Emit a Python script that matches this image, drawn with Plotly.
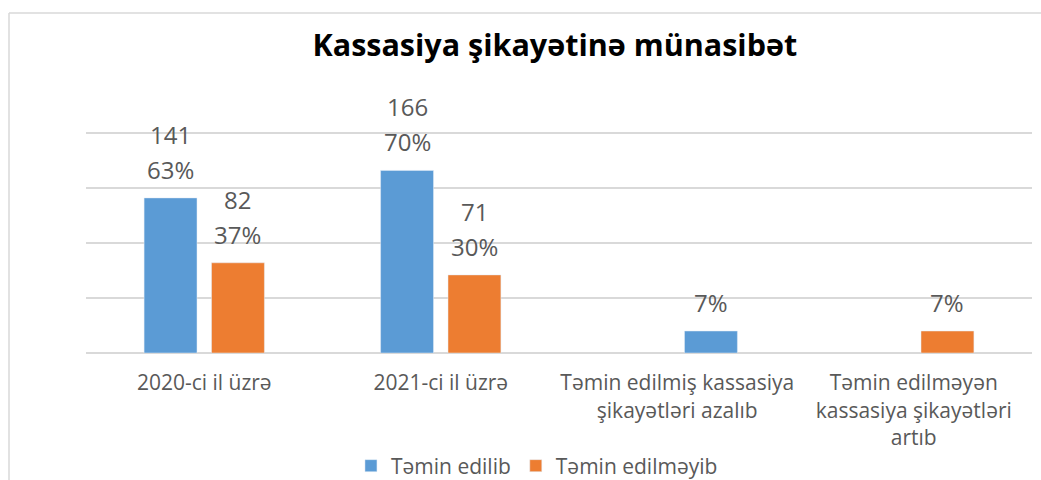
import plotly.graph_objects as go

categories = [
    "2020-ci il üzrə",
    "2021-ci il üzrə",
    "Təmin edilmiş kassasiya<br>şikayətləri azalıb",
    "Təmin edilməyən<br>kassasiya şikayətləri<br>artıb",
]
series1_name = "Təmin edilib"
series2_name = "Təmin edilməyib"
series1_values = [141, 166, None, None]
series1_counts = ["141", "166", "", ""]
series1_pct = ["63%", "70%", "", ""]
series2_values = [82, 71, 20, 20]
series2_counts = ["82", "71", "", ""]
series2_pct = ["37%", "30%", "7%", "7%"]

BLUE = "#5B9BD5"
ORANGE = "#ED7D31"
TEXT = "#595959"
GRID = "#D9D9D9"
FONT = "Open Sans"

s2_colors = [ORANGE, ORANGE, BLUE, ORANGE]

W, H = 1041, 480
ML, MR, MT, MB = 86, 9, 131, 127
plot_w = W - ML - MR
plot_h = H - MT - MB
px_per_unit = 1.1
y_top = plot_h / px_per_unit
BARGAP = 0.43
slot_px = plot_w / len(categories) * (1 - BARGAP) / 2


def py(Y):
    # pixel row -> paper y
    return (H - MB - Y) / plot_h


def px(X):
    return (X - ML) / plot_w


fig = go.Figure()
fig.add_trace(go.Bar(name=series1_name, x=categories, y=series1_values,
                     marker=dict(color=BLUE), cliponaxis=False))
fig.add_trace(go.Bar(name=series2_name, x=categories, y=series2_values,
                     marker=dict(color=s2_colors), cliponaxis=False))

annotations = []
for vals, counts, pcts, sign in [
    (series1_values, series1_counts, series1_pct, -1),
    (series2_values, series2_counts, series2_pct, 1),
]:
    for cat, v, c, p in zip(categories, vals, counts, pcts):
        if v is None:
            continue
        for txt, ys in [(p, 10), (c, 45)]:
            if not txt:
                continue
            annotations.append(dict(
                x=cat, y=v, xref="x", yref="y", text=txt, showarrow=False,
                xshift=sign * slot_px / 2, yshift=ys, yanchor="bottom", xanchor="center",
                font=dict(family=FONT, size=24, color=TEXT),
            ))

fig.update_layout(
    width=W, height=H,
    margin=dict(l=ML, r=MR, t=MT, b=MB, autoexpand=False),
    paper_bgcolor="white", plot_bgcolor="white",
    barmode="group", bargap=BARGAP, bargroupgap=0.215,
    title=dict(text="<b>Kassasiya şikayətinə münasibət</b>",
               font=dict(family=FONT, size=30.5, color="#000000"),
               x=0.533, xanchor="center", y=1 - 45 / H, yanchor="middle"),
    font=dict(family=FONT, color=TEXT),
    showlegend=True,
    legend=dict(orientation="h", x=0.4767, xanchor="center", y=py(466), yanchor="middle",
                font=dict(family=FONT, size=21, color=TEXT)),
    annotations=annotations,
    shapes=[
        dict(type="line", xref="paper", yref="paper", x0=px(9), x1=px(W + 5), y0=py(13), y1=py(13),
             line=dict(color=GRID, width=1.5)),
        dict(type="line", xref="paper", yref="paper", x0=px(9), x1=px(9), y0=py(13), y1=py(H + 5),
             line=dict(color=GRID, width=1.5)),
    ],
)
fig.update_xaxes(showgrid=False, showline=False, ticks="outside", ticklen=11,
                 tickcolor="rgba(0,0,0,0)", automargin=False,
                 tickfont=dict(family=FONT, size=21, color=TEXT))
fig.update_yaxes(range=[0, y_top], dtick=50, showticklabels=False, showgrid=True,
                 gridcolor=GRID, gridwidth=1.5, zeroline=True, zerolinecolor=GRID,
                 zerolinewidth=1.5, automargin=False)

fig.write_html("out.html", config={"displayModeBar": False},
               post_script="document.body.style.margin='0px';")
